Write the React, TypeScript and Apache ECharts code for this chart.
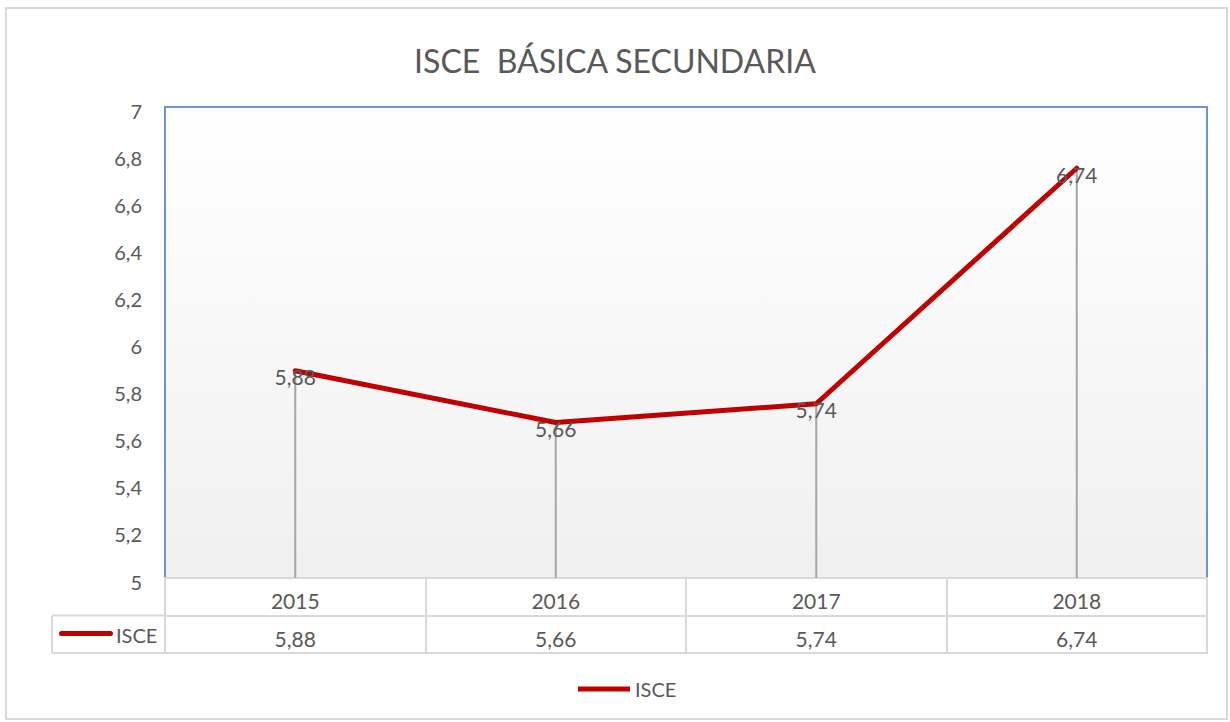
import React, { useEffect, useRef } from "react";
import * as echarts from "echarts";

const titleText = "ISCE  BÁSICA SECUNDARIA";
const seriesName = "ISCE";
const years = ["2015", "2016", "2017", "2018"];
const isce = [5.88, 5.66, 5.74, 6.74];
const yMin = 5;
const yMax = 7;
const yStep = 0.2;

const fmt = (v: number) => {
  const r = Math.round(v * 100) / 100;
  return String(r).replace(".", ",");
};

const FONT = "Lato";
const TXT = "#595959";
const GRID_L = 165;
const GRID_R = 1207;
const GRID_T = 107;
const GRID_B = 578;
const ROW_H = 37.5;

export default function App() {
  const ref = useRef<HTMLDivElement>(null);
  useEffect(() => {
    if (!ref.current) return;
    const chart = echarts.init(ref.current, null, { renderer: "svg" });
    const borderGray = "#d9d9d9";
    chart.setOption({
      animation: false,
      backgroundColor: "#ffffff",
      textStyle: { fontFamily: FONT },
      title: {
        text: titleText,
        left: "center",
        top: 39,
        textStyle: { fontFamily: FONT, fontSize: 32, fontWeight: "normal", color: TXT },
      },
      legend: {
        data: [seriesName],
        left: 578,
        top: 679,
        padding: 0,
        icon: "rect",
        itemWidth: 52,
        itemHeight: 5,
        itemGap: 3,
        textStyle: { fontFamily: FONT, fontSize: 20, color: TXT, padding: [3, 0, 0, 0] },
      },
      grid: {
        left: GRID_L,
        top: GRID_T,
        width: GRID_R - GRID_L,
        height: GRID_B - GRID_T,
        show: true,
        borderColor: "#6f95c8",
        borderWidth: 2,
        backgroundColor: new echarts.graphic.LinearGradient(0, 0, 0, 1, [
          { offset: 0, color: "#ffffff" },
          { offset: 1, color: "#f0f0f0" },
        ]),
      },
      xAxis: [
        {
          type: "category",
          data: years,
          position: "bottom",
          boundaryGap: true,
          axisLine: { show: true, lineStyle: { color: borderGray, width: 2 } },
          axisTick: { show: true, length: ROW_H * 2, lineStyle: { color: borderGray, width: 2 } },
          axisLabel: { margin: 12, fontFamily: FONT, fontSize: 21, color: TXT },
          splitLine: { show: false },
        },
        {
          type: "category",
          data: years,
          position: "bottom",
          offset: ROW_H,
          boundaryGap: true,
          axisLine: { show: true, lineStyle: { color: borderGray, width: 2 } },
          axisTick: { show: false },
          axisLabel: {
            margin: 12,
            fontFamily: FONT,
            fontSize: 21,
            color: TXT,
            formatter: (_v: string, i: number) => fmt(isce[i]),
          },
        },
        {
          type: "category",
          data: years,
          position: "bottom",
          offset: ROW_H * 2,
          boundaryGap: true,
          axisLine: { show: true, lineStyle: { color: borderGray, width: 2 } },
          axisTick: { show: false },
          axisLabel: { show: false },
        },
      ],
      yAxis: {
        type: "value",
        min: yMin,
        max: yMax,
        interval: yStep,
        axisLine: { show: false },
        axisTick: { show: false },
        splitLine: { show: false },
        axisLabel: {
          margin: 23,
          fontFamily: FONT,
          fontSize: 20,
          color: TXT,
          formatter: (v: number) => "{a|" + fmt(v) + "}",
          rich: {
            a: {
              fontFamily: FONT,
              fontSize: 20,
              color: TXT,
              padding: [7, 0, 0, 0],
            },
          },
        },
      },
      series: [
        {
          name: "drop",
          type: "bar",
          data: isce,
          barWidth: 2,
          itemStyle: { color: "#a6a6a6" },
          silent: true,
          z: 1,
        },
        {
          name: seriesName,
          type: "line",
          data: isce,
          showSymbol: true,
          symbol: "circle",
          symbolSize: 1,
          lineStyle: { color: "#c00000", width: 5, join: "round", cap: "round" },
          itemStyle: { color: "#c00000" },
          z: 3,
          label: {
            show: true,
            position: "inside",
            offset: [0, 6],
            fontFamily: FONT,
            fontSize: 21,
            color: TXT,
            formatter: (p: any) => fmt(p.value),
          },
        },
      ],
      graphic: [
        {
          type: "rect",
          shape: { x: 6, y: 8, width: 1221, height: 711 },
          style: { fill: "none", stroke: "#d9d9d9", lineWidth: 2 },
          silent: true,
        },
        {
          type: "line",
          shape: { x1: 52, y1: GRID_B + ROW_H, x2: GRID_L, y2: GRID_B + ROW_H },
          style: { stroke: borderGray, lineWidth: 2 },
        },
        {
          type: "line",
          shape: { x1: 52, y1: GRID_B + ROW_H * 2, x2: GRID_L, y2: GRID_B + ROW_H * 2 },
          style: { stroke: borderGray, lineWidth: 2 },
        },
        {
          type: "line",
          shape: { x1: 52, y1: GRID_B + ROW_H, x2: 52, y2: GRID_B + ROW_H * 2 },
          style: { stroke: borderGray, lineWidth: 2 },
        },
        {
          type: "rect",
          shape: { x: 59, y: 631, width: 54, height: 5, r: 2.5 },
          style: { fill: "#c00000" },
        },
        {
          type: "text",
          x: 116,
          y: 635,
          style: {
            text: seriesName,
            fontFamily: FONT,
            fontSize: 20,
            fill: TXT,
            verticalAlign: "middle",
          },
        },
      ],
    });
    return () => chart.dispose();
  }, []);
  return (
    <div
      ref={ref}
      style={{ position: "fixed", left: 0, top: 0, width: 1230, height: 722 }}
    />
  );
}
